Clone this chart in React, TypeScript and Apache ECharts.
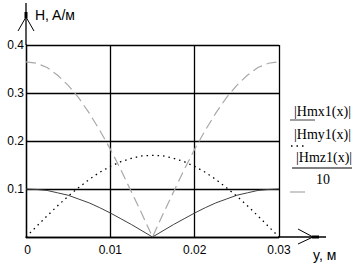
import React, { useEffect, useRef } from "react";
import * as echarts from "echarts";

const xValues = [0, 0.00125, 0.0025, 0.00375, 0.005, 0.00625, 0.0075, 0.00875, 0.01, 0.01125, 0.0125, 0.01375, 0.015, 0.01625, 0.0175, 0.01875, 0.02, 0.02125, 0.0225, 0.02375, 0.025, 0.02625, 0.0275, 0.02875, 0.03];
const hmx1 = [0.1, 0.099, 0.097, 0.092, 0.087, 0.079, 0.071, 0.061, 0.05, 0.038, 0.026, 0.013, 0, 0.013, 0.026, 0.038, 0.05, 0.061, 0.071, 0.079, 0.087, 0.092, 0.097, 0.099, 0.1];
const hmy1 = [0, 0.022, 0.044, 0.065, 0.085, 0.103, 0.12, 0.135, 0.147, 0.157, 0.164, 0.169, 0.17, 0.169, 0.164, 0.157, 0.147, 0.135, 0.12, 0.103, 0.085, 0.065, 0.044, 0.022, 0];
const hmz1div10 = [0.365, 0.362, 0.353, 0.337, 0.316, 0.29, 0.258, 0.222, 0.183, 0.14, 0.094, 0.048, 0, 0.048, 0.094, 0.14, 0.183, 0.222, 0.258, 0.29, 0.316, 0.337, 0.353, 0.362, 0.365];

const xTicks = { min: 0, max: 0.03, interval: 0.01 };
const yTicks = { min: 0, max: 0.4, interval: 0.1 };

const yAxisName = "H, A/м";
const xAxisName = "y, м";
const legendLabels = ["|Hmx1(x)|", "|Hmy1(x)|", "|Hmz1(x)|", "10"];

const SANS = "Liberation Sans, Arial, sans-serif";
const SERIF = "Liberation Serif, Times New Roman, serif";

const pair = (ys: number[]) => xValues.map((x, i) => [x, ys[i]]);

export default function App() {
  const ref = useRef<HTMLDivElement>(null);
  useEffect(() => {
    if (!ref.current) return;
    const chart = echarts.init(ref.current, null, { renderer: "svg" });
    const black = "#000";
    chart.setOption({
      animation: false,
      backgroundColor: "#fff",
      grid: { left: 26, top: 45, right: 76, bottom: 27, containLabel: false },
      xAxis: {
        type: "value",
        min: xTicks.min,
        max: xTicks.max,
        interval: xTicks.interval,
        axisLine: { show: true, lineStyle: { color: black, width: 1.3 } },
        axisTick: { show: false },
        splitLine: { show: true, lineStyle: { color: black, width: 1.3 } },
        axisLabel: {
          color: black,
          fontFamily: SANS,
          fontSize: 12,
          margin: 7,
          formatter: (v: number) => (v === 0 ? " 0" : String(+v.toFixed(3))),
        },
      },
      yAxis: {
        type: "value",
        min: yTicks.min,
        max: yTicks.max,
        interval: yTicks.interval,
        axisLine: { show: true, lineStyle: { color: black, width: 1.3 } },
        axisTick: { show: false },
        splitLine: { show: true, lineStyle: { color: black, width: 1.3 } },
        axisLabel: {
          color: black,
          fontFamily: SANS,
          fontSize: 12,
          margin: 2,
          formatter: (v: number) => (v === 0 ? "" : v.toFixed(1)),
        },
      },
      series: [
        {
          type: "line",
          data: pair(hmx1),
          symbol: "none",
          lineStyle: { color: "#404040", width: 1 },
          z: 3,
        },
        {
          type: "line",
          data: pair(hmy1),
          symbol: "none",
          lineStyle: { color: "#000", width: 1.3, type: [1.5, 4] },
          z: 3,
        },
        {
          type: "line",
          data: pair(hmz1div10),
          symbol: "none",
          lineStyle: { color: "#a8a8a8", width: 1.2, type: [10, 5] },
          z: 3,
        },
      ],
      graphic: [
        // axis extensions and arrows
        { type: "line", shape: { x1: 26, y1: 45, x2: 26, y2: 3 }, style: { stroke: black, lineWidth: 1.3 } },
        { type: "line", shape: { x1: 26, y1: 12, x2: 26, y2: 18 }, style: { stroke: black, lineWidth: 3 } },
        { type: "line", shape: { x1: 26, y1: 17, x2: 18, y2: 31 }, style: { stroke: black, lineWidth: 1 } },
        { type: "line", shape: { x1: 26, y1: 17, x2: 34, y2: 31 }, style: { stroke: black, lineWidth: 1 } },
        { type: "line", shape: { x1: 279, y1: 237, x2: 326, y2: 237 }, style: { stroke: black, lineWidth: 1.3 } },
        { type: "line", shape: { x1: 312, y1: 237, x2: 319, y2: 237 }, style: { stroke: black, lineWidth: 3 } },
        { type: "line", shape: { x1: 313, y1: 237, x2: 298, y2: 229 }, style: { stroke: black, lineWidth: 1 } },
        { type: "line", shape: { x1: 313, y1: 237, x2: 298, y2: 244 }, style: { stroke: black, lineWidth: 1 } },
        // axis names
        { type: "text", x: 35, y: 15, style: { text: yAxisName, fill: black, font: `14px ${SANS}`, textVerticalAlign: "middle" } },
        { type: "text", x: 313, y: 255, style: { text: xAxisName, fill: black, font: `14px ${SANS}`, textVerticalAlign: "middle" } },
        // legend
        { type: "text", x: 294, y: 111, style: { text: legendLabels[0], fill: black, font: `14px ${SERIF}`, textVerticalAlign: "middle" } },
        { type: "line", shape: { x1: 290, y1: 120, x2: 315, y2: 120 }, style: { stroke: "#404040", lineWidth: 1 } },
        { type: "text", x: 294, y: 134, style: { text: legendLabels[1], fill: black, font: `14px ${SERIF}`, textVerticalAlign: "middle" } },
        { type: "line", shape: { x1: 291, y1: 146, x2: 305, y2: 146 }, style: { stroke: black, lineWidth: 1.3, lineDash: [1.5, 4] } },
        { type: "text", x: 296, y: 157, style: { text: legendLabels[2], fill: black, font: `14px ${SERIF}`, textVerticalAlign: "middle" } },
        { type: "line", shape: { x1: 292, y1: 168, x2: 352, y2: 168 }, style: { stroke: black, lineWidth: 1 } },
        { type: "text", x: 323, y: 179, style: { text: legendLabels[3], fill: black, font: `14px ${SERIF}`, textAlign: "center", textVerticalAlign: "middle" } },
        { type: "line", shape: { x1: 290, y1: 192, x2: 305, y2: 192 }, style: { stroke: "#a8a8a8", lineWidth: 1.2 } },
      ],
    });
    return () => chart.dispose();
  }, []);
  return <div ref={ref} style={{ position: "fixed", left: 0, top: 0, width: 355, height: 264 }} />;
}
